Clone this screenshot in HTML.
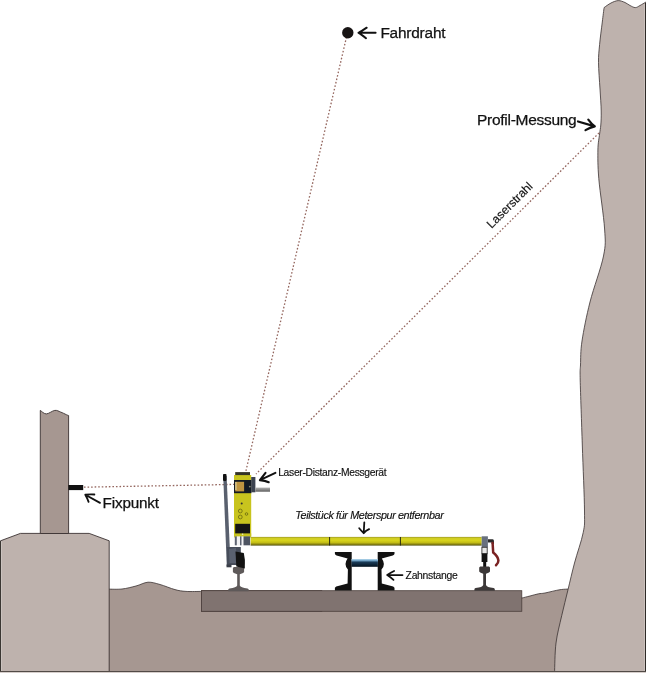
<!DOCTYPE html>
<html><head><meta charset="utf-8"><style>
html,body{margin:0;padding:0;background:#fff;}
svg{display:block;will-change:transform;}
text{font-family:"Liberation Sans",sans-serif;fill:#111;}
</style></head><body>
<svg width="646" height="673" viewBox="0 0 646 673">
<defs>
<linearGradient id="yb" x1="0" y1="0" x2="0" y2="1">
<stop offset="0" stop-color="#9a9628"/><stop offset="0.15" stop-color="#cfcc22"/><stop offset="0.4" stop-color="#d8d41c"/><stop offset="0.65" stop-color="#c4be16"/><stop offset="0.85" stop-color="#8a8410"/><stop offset="1" stop-color="#50500e"/>
</linearGradient>
<linearGradient id="cyl" x1="0" y1="0" x2="0" y2="1">
<stop offset="0" stop-color="#b8dcf0"/><stop offset="0.22" stop-color="#6a9cc0"/><stop offset="0.4" stop-color="#1a3c58"/><stop offset="1" stop-color="#04121e"/>
</linearGradient>
<linearGradient id="gcyl" x1="0" y1="0" x2="0" y2="1">
<stop offset="0" stop-color="#b0b0b0"/><stop offset="0.5" stop-color="#8a8a8a"/><stop offset="1" stop-color="#5a5a5a"/>
</linearGradient>
</defs>
<rect x="0" y="0" width="646" height="673" fill="#fff"/>
<!-- ground -->
<path d="M108,673 L108,589.1 C110.3,589.1 117.3,589.5 122.0,589.0 C126.7,588.5 131.7,587.1 136.0,586.0 C140.3,584.9 144.0,582.5 148.0,582.2 C152.0,582.0 155.5,583.3 160.0,584.5 C164.5,585.7 170.7,588.5 175.0,589.6 C179.3,590.8 181.5,591.1 186.0,591.4 C190.5,591.7 199.3,591.4 202.0,591.4 L522,598 C523.3,597.7 527.2,596.7 530.0,596.0 C532.8,595.3 536.0,594.3 538.5,593.8 C541.0,593.3 541.4,593.7 545.0,593.0 C548.6,592.3 555.5,590.4 560.0,589.7 C564.5,589.0 570.0,589.1 572.0,589.0 L600,589 L600,673 Z" fill="#a69791" stroke="#3a3131" stroke-width="0.8"/>
<!-- pedestal -->
<path d="M0.5,673 L0.5,540.8 L20.4,533.4 L89.2,533.4 L109.2,540.8 L109.2,673 Z" fill="#beb2ad" stroke="#3a3131" stroke-width="0.9"/>
<!-- pillar -->
<path d="M40.3,533.5 L40.3,410.4 C41.3,411.0 43.9,413.9 46.3,413.9 C48.7,413.9 52.4,410.7 54.8,410.4 C57.2,410.1 58.6,411.3 60.5,412.0 C62.4,412.7 65.1,414.1 66.4,414.7 C67.8,415.3 68.2,415.4 68.6,415.5 L68.6,533.5 Z" fill="#a69791" stroke="#3a3131" stroke-width="0.9"/>
<!-- right wall -->
<path d="M554.5,673.0 C554.8,668.0 554.8,652.5 556.0,643.0 C557.2,633.5 559.7,624.6 561.7,615.7 C563.7,606.8 565.9,598.5 568.0,589.7 C570.1,580.9 572.0,572.5 574.5,563.0 C577.0,553.5 581.5,541.3 583.2,532.6 C584.9,523.9 584.6,525.6 584.5,511.0 C584.4,496.4 583.0,466.8 582.3,445.0 C581.6,423.2 580.5,393.3 580.2,380.0 C579.9,366.7 580.2,371.5 580.5,365.0 C580.8,358.5 580.4,351.5 582.0,341.0 C583.6,330.5 586.4,316.2 590.0,302.0 C593.6,287.8 601.1,268.2 603.5,256.0 C605.9,243.8 605.4,241.9 604.6,229.0 C603.8,216.1 599.9,191.9 598.8,178.7 C597.7,165.5 597.8,157.4 597.9,150.0 C598.0,142.6 599.1,138.2 599.6,134.0 C600.1,129.8 600.5,128.8 600.8,125.0 C601.1,121.2 601.3,117.0 601.2,111.0 C601.1,105.0 600.5,97.1 600.0,89.0 C599.5,80.9 598.6,69.8 598.5,62.4 C598.4,55.0 599.0,51.3 599.6,44.6 C600.2,37.9 601.5,28.2 602.3,22.0 C603.0,15.8 603.8,10.0 604.1,7.6 C605.2,6.8 608.6,4.2 611.0,3.0 C613.4,1.8 615.9,0.7 618.2,0.6 C620.5,0.5 623.0,1.7 625.0,2.5 C627.0,3.3 628.3,4.7 630.0,5.5 C631.7,6.3 633.6,7.6 635.3,7.6 C637.0,7.6 638.3,6.4 640.0,5.5 C641.7,4.6 644.4,2.9 645.3,2.4 L646,2 L646,673 Z" fill="#beb2ad" stroke="#3a3131" stroke-width="0.8"/>
<rect x="644" y="4" width="1" height="669" fill="#cbc1bd"/>
<rect x="645" y="3" width="1" height="670" fill="#2e2a27"/>
<rect x="1" y="541.5" width="1" height="131.5" fill="#cbc3bf"/>
<rect x="0" y="541" width="1" height="132" fill="#3a3632"/>
<rect x="0" y="671" width="646" height="1" fill="#524b47"/>
<rect x="0" y="672" width="646" height="1" fill="#d6cecb"/>
<!-- slab -->
<rect x="201.4" y="590.7" width="120.4" height="20.6" fill="#807370" stroke="#4a3e3b" stroke-width="0.8"/>
<rect x="201.4" y="590.7" width="320.4" height="20.6" fill="#807370" stroke="#4a3e3b" stroke-width="0.8"/>

<!-- fixpunkt -->
<rect x="68.4" y="485" width="14.8" height="5.1" fill="#111"/>

<!-- laser lines -->
<g stroke="#94665e" stroke-width="1.3" stroke-dasharray="1.6 1.95" fill="none">
<line x1="84" y1="487.2" x2="234" y2="484.4"/>
<line x1="346.5" y1="37" x2="245.8" y2="471.5"/>
<line x1="599" y1="133" x2="256" y2="474"/>
</g>
<!-- Fahrdraht dot -->
<circle cx="347.8" cy="32.7" r="5.7" fill="#181414"/>

<!-- bar -->
<rect x="250.6" y="536.9" width="231.1" height="8.7" fill="url(#yb)"/>
<line x1="329.6" y1="537" x2="329.6" y2="545.5" stroke="#2a2a10" stroke-width="1"/>
<line x1="400.4" y1="537" x2="400.4" y2="545.5" stroke="#2a2a10" stroke-width="1"/>
<rect x="481.7" y="536.3" width="6.2" height="11" fill="#68707e"/>
<rect x="488" y="539.5" width="5.5" height="2.8" fill="#2a2a2a"/>
<path d="M488,539.6 L492.6,539.6 Q494,540 494,542 L494,544 L491.6,544 L491.6,542.2 L488,542.2 Z" fill="#2a2a2a"/>
<path d="M492.6,543 L493.2,552.5 Q497.8,556 498.4,560.5 Q498.5,563 496,565.2" fill="none" stroke="#7a2222" stroke-width="2.5" stroke-linecap="round"/>
<rect x="481.9" y="547.3" width="5.3" height="6.4" fill="#e6e6e6" stroke="#333" stroke-width="0.9"/>
<rect x="481.6" y="553.5" width="5.8" height="8.5" fill="#111"/>
<rect x="483.2" y="561.5" width="3" height="5.5" fill="#111"/>

<!-- right rail -->
<path d="M480.2,566.6 L489.0,566.6 L490.0,567.6 L490.0,571.6 L489.0,572.6 L486.0,573.8 L486.0,585.1 Q486.6,587.4 493.6,588.0 Q494.8,588.2 494.8,589.2 L494.8,590.8 L474.4,590.8 L474.4,589.2 Q474.4,588.2 475.6,588.0 Q482.6,587.4 483.2,585.1 L483.2,573.8 L480.2,572.6 L479.2,571.6 L479.2,567.6 Z" fill="#3c3838"/>

<!-- left rail -->
<path d="M233.9,567.0 L243.1,567.0 L244.1,568.0 L244.1,572.0 L243.1,573.0 L239.8,574.2 L239.8,585.5 Q240.5,587.8 247.5,588.4 Q248.7,588.6 248.7,589.6 L248.7,591.2 L228.3,591.2 L228.3,589.6 Q228.3,588.6 229.5,588.4 Q236.5,587.8 237.2,585.5 L237.2,574.2 L233.9,573.0 L232.9,572.0 L232.9,568.0 Z" fill="#5e5959"/>

<!-- rack -->
<g fill="#111">
<path d="M334.9,552.0 L351.7,552.0 L351.7,590.5 L334.9,590.5 L334.9,587.8 L336.2,586.6 L347.6,583.6 L347.9,569.6 Q343.2,564.2 347.6,558.4 L336.6,555.4 L335.4,554.8 L334.9,553.8 Z"/>
<path d="M394.5,552.0 L377.7,552.0 L377.7,590.5 L394.5,590.5 L394.5,587.8 L393.2,586.6 L381.8,583.6 L381.5,569.6 Q386.2,564.2 381.8,558.4 L392.8,555.4 L394.0,554.8 L394.5,553.8 Z"/>
</g>
<rect x="351.5" y="559" width="26.4" height="7.8" fill="url(#cyl)"/>

<!-- device -->
<path d="M223.2,476 L226.6,476 L230.6,566 L226.8,566 Z" fill="#59606e"/>
<rect x="223" y="473.9" width="3.5" height="7" rx="0.8" fill="#111"/>
<path d="M226.9,547 L240.8,546.9 L241,565 L227,565 Z" fill="#474d5a"/>
<path d="M229,549 L236,548 L237,563 L229.5,563 Z" fill="#5a6170"/>
<path d="M235.5,551.4 L243.8,553 Q245.6,560 244.8,568.5 L236.3,566.5 Z" fill="#121212"/>
<rect x="226.5" y="564.5" width="5" height="2.8" fill="#3a3e48"/>
<rect x="234" y="475" width="17.2" height="62.5" fill="#c8c41e"/>
<rect x="235.2" y="472.1" width="14.8" height="3" fill="#333226"/>
<rect x="234" y="480" width="17.4" height="13.2" fill="#141a24"/>
<rect x="235.2" y="481.8" width="8.9" height="9.6" fill="#bf9440"/><rect x="235.2" y="482" width="1.4" height="8" fill="#d8c890"/><circle cx="249.8" cy="486.6" r="0.9" fill="#8a8a70"/>
<rect x="251.2" y="477" width="4.2" height="15.3" fill="#3c4250"/>
<rect x="255.4" y="487.6" width="14.6" height="4.1" fill="url(#gcyl)"/>
<circle cx="241.7" cy="503.6" r="1" fill="#333"/>
<g fill="none" stroke="#6a6a10" stroke-width="0.8">
<circle cx="240.3" cy="511" r="1.9"/><circle cx="240.3" cy="517" r="1.9"/><circle cx="246.5" cy="514" r="1.3"/>
</g>
<rect x="235.2" y="523.8" width="14.8" height="10.7" fill="#151515"/>
<rect x="234.8" y="536.2" width="15.3" height="9.1" fill="#f2f2f4"/>
<rect x="234.8" y="536.2" width="2" height="9.1" fill="#5e6472"/>
<rect x="240" y="536.2" width="1.5" height="9.1" fill="#5e6472"/>
<rect x="243.5" y="536.2" width="6.6" height="9.1" fill="#4e5562"/>
<rect x="234" y="533.4" width="17.2" height="2.8" fill="#c8c41e"/>
<circle cx="242.6" cy="534.2" r="0.8" fill="#e8e8d0"/>

<!-- arrows -->
<g fill="none" stroke="#111" stroke-width="2" stroke-linecap="round" stroke-linejoin="round">
<path d="M358.5,32.8 L375.6,32.8 M366.7,27.7 Q361,31.5 358.5,32.8 Q361,34 366,38.2"/>
<path d="M578,121.5 L594.8,126.4 M588.3,119.6 Q591.5,124 594.8,126.4 Q590,127.5 585.5,130.1" stroke-width="2.2"/>
<path d="M275.4,472.9 L259.9,480.1 M265.5,472.9 Q262,477.5 259.9,480.1 Q265,480.5 268.7,482.2" stroke-width="2.1"/>
<path d="M100,502.9 L85.3,494.7 M94.4,494.5 Q89,494.3 85.3,494.7 Q87.5,498.5 88.6,501.9" stroke-width="1.8"/>
<path d="M364.3,522.5 L363.7,533.2 M359.2,528.2 Q361.5,531 363.7,533.2 Q366,530.5 369.1,529.2" stroke-width="1.8"/>
<path d="M402.5,575.1 L387.2,574.9 M394.1,571 Q390,573 387.2,574.9 Q390.5,577 393.5,579.9" stroke-width="1.8"/>
</g>

<!-- labels -->
<g stroke="#111" stroke-width="0.25">
<text x="380.4" y="38.1" font-size="15.4" letter-spacing="-0.2">Fahrdraht</text>
<text x="477" y="125.1" font-size="15.5" letter-spacing="-0.28">Profil-Messung</text>
<text x="102.6" y="508" font-size="15.3" letter-spacing="-0.2">Fixpunkt</text>
</g>
<g stroke="#111" stroke-width="0.15">
<text x="278.2" y="476.2" font-size="10.3" letter-spacing="-0.3">Laser-Distanz-Messgerät</text>
<text x="295.3" y="519.3" font-size="10.8" letter-spacing="-0.38" font-style="italic">Teilstück für Meterspur entfernbar</text>
<text x="405.6" y="578.8" font-size="10.4" letter-spacing="-0.3">Zahnstange</text>
<text x="0" y="0" font-size="12" transform="translate(491.5,229) rotate(-45)">Laserstrahl</text>
</g>
</svg>
</body></html>
